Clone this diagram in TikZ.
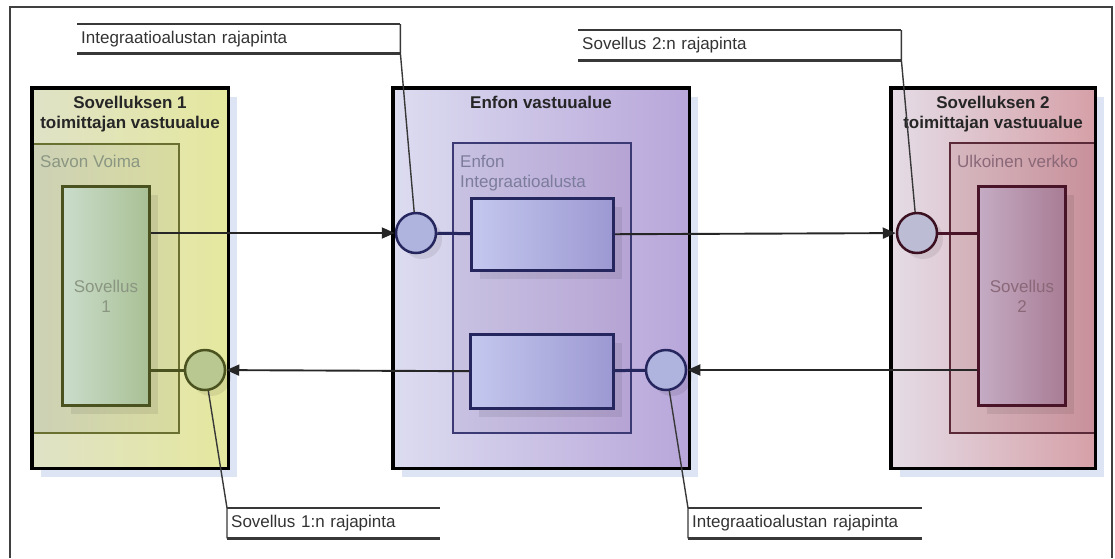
\documentclass[tikz,border=0pt]{standalone}
\usepackage{fontspec}
\setmainfont{Liberation Sans}
\usetikzlibrary{arrows.meta,shadows}
\definecolor{varjo}{HTML}{DDE5F5}
\definecolor{kehys}{HTML}{404040}
\definecolor{viiva}{HTML}{383838}
% left (yellow-green) side
\definecolor{keltaA}{HTML}{DFE2C6}
\definecolor{keltaB}{HTML}{E5E89E}
\definecolor{savoA}{HTML}{CDD1B6}
\definecolor{savoB}{HTML}{D9DC9E}
\definecolor{savoraja}{HTML}{6A7030}
\definecolor{sovA}{HTML}{CADDCC}
\definecolor{sovB}{HTML}{A9C094}
\definecolor{oliivi}{HTML}{4A5220}
\definecolor{oliivitxt}{HTML}{8A9682}
% middle (violet) part
\definecolor{violA}{HTML}{DCDCF0}
\definecolor{violB}{HTML}{B8A6DA}
\definecolor{inteA}{HTML}{C8C2E2}
\definecolor{inteB}{HTML}{B6A4D4}
\definecolor{interaja}{HTML}{3C3A74}
\definecolor{laatA}{HTML}{C4C8EE}
\definecolor{laatB}{HTML}{9C98D2}
\definecolor{sini}{HTML}{26265E}
\definecolor{sinitxt}{HTML}{7C7C9C}
\definecolor{portti}{HTML}{AEB4DE}
% right (red) side
\definecolor{punaA}{HTML}{E4DCE6}
\definecolor{punaB}{HTML}{D6A0A8}
\definecolor{ulkoA}{HTML}{D6B8C0}
\definecolor{ulkoB}{HTML}{C8909A}
\definecolor{ulkoraja}{HTML}{5A2A38}
\definecolor{sov2A}{HTML}{C4ACC4}
\definecolor{sov2B}{HTML}{A87C94}
\definecolor{viini}{HTML}{4A1428}
\definecolor{viinitxt}{HTML}{8A6878}
\definecolor{portti2}{HTML}{BCBCD4}
\definecolor{portti1}{HTML}{B8C890}
\begin{document}
\begin{tikzpicture}[x=1pt,y=-1pt,
  every node/.style={inner sep=0pt,font=\fontsize{17}{20}\selectfont},
  vastuu/.style={anchor=north west,
    drop shadow={shadow xshift=9pt,shadow yshift=-9pt,fill=varjo,opacity=1}},
  vastuuraja/.style={draw=black,line width=3.5pt},
  osa/.style={anchor=north west,line width=1.5pt},
  sovellus/.style={anchor=north west,line width=3pt,
    general shadow={shadow xshift=8pt,shadow yshift=-8pt,fill=black,opacity=0.08}},
  liitin/.style={circle,line width=2.5pt,minimum size=40pt,
    general shadow={shadow xshift=6pt,shadow yshift=-6pt,fill=black,opacity=0.08}},
  otsikko/.style={font=\fontsize{17}{20}\selectfont\bfseries,align=center,text=black!85},
  kulku/.style={draw=black!85,line width=1.9pt,-{Triangle[length=13pt,width=11pt]}},
  kiinni/.style={line width=3pt},
  selite/.style={anchor=north west,inner xsep=4pt,align=left,text=black!80},
  selitelinja/.style={draw=viiva,line width=2.6pt},
  viite/.style={draw=viiva,line width=1.4pt}]
\useasboundingbox (0,0) rectangle (1115,558);
\draw[draw=kehys,line width=1.2pt] (10,558) -- (10,7) -- (1112,7) -- (1112,558);

% Sovelluksen 1 toimittajan vastuualue
\node[vastuu,left color=keltaA,right color=keltaB,minimum width=196pt,minimum height=380pt] (vast1) at (32,88) {};
\node[osa,draw=savoraja,left color=savoA,right color=savoB,minimum width=146pt,minimum height=289pt] (savo) at (32,143) {};
\node[sovellus,draw=oliivi,left color=sovA,right color=sovB,minimum width=87pt,minimum height=219pt] (sov1) at (61,185) {};
\draw[vastuuraja] (vast1.north west) rectangle (vast1.south east);
\node[otsikko,anchor=north] (t1) at (130,96) {Sovelluksen 1\\toimittajan vastuualue};
\node[anchor=west,text=oliivitxt] (savoteksti) at (40,161) {Savon Voima};
\node[align=center,text=oliivitxt] (sov1teksti) at (sov1) {Sovellus\\1};

% Enfon vastuualue
\node[vastuu,left color=violA,right color=violB,minimum width=296pt,minimum height=380pt] (vast2) at (393,88) {};
\node[osa,draw=interaja,left color=inteA,right color=inteB,minimum width=178pt,minimum height=290pt] (inte) at (452,142) {};
\node[sovellus,draw=sini,left color=laatA,right color=laatB,minimum width=142pt,minimum height=72pt] (laat1) at (470,197) {};
\node[sovellus,draw=sini,left color=laatA,right color=laatB,minimum width=143pt,minimum height=74pt] (laat2) at (469,333) {};
\draw[vastuuraja] (vast2.north west) rectangle (vast2.south east);
\node[otsikko,anchor=north] (t2) at (541,96) {Enfon vastuualue};
\node[anchor=north west,align=left,text=sinitxt] (inteteksti) at (460,155) {Enfon\\Integraatioalusta};

% Sovelluksen 2 toimittajan vastuualue
\node[vastuu,left color=punaA,right color=punaB,minimum width=204pt,minimum height=380pt] (vast3) at (891,88) {};
\node[osa,draw=ulkoraja,left color=ulkoA,right color=ulkoB,minimum width=146pt,minimum height=290pt] (ulko) at (949,142) {};
\node[sovellus,draw=viini,left color=sov2A,right color=sov2B,minimum width=87pt,minimum height=219pt] (sov2) at (977,185) {};
\draw[vastuuraja] (vast3.north west) rectangle (vast3.south east);
\node[otsikko,anchor=north] (t3) at (993,96) {Sovelluksen 2\\toimittajan vastuualue};
\node[anchor=west,text=viinitxt] (ulkoteksti) at (957,161) {Ulkoinen verkko};
\node[align=center,text=viinitxt] (sov2teksti) at (sov2) {Sovellus\\2};

% rajapinnat
\node[liitin,draw=sini,fill=portti] (c1) at (416,233) {};
\node[liitin,draw=viini!80!black,fill=portti2] (c2) at (917,233) {};
\node[liitin,draw=sini,fill=portti] (c3) at (666,370) {};
\node[liitin,draw=oliivi,fill=portti1] (c4) at (205,370) {};

% kulku
\draw[kulku] (sov1.east |- c1) -- (c1);
\draw[kiinni,draw=sini] (c1) -- (laat1);
\draw[kulku] (laat1) -- (c2);
\draw[kiinni,draw=viini] (c2) -- (sov2.west |- c2);
\draw[kulku] (sov2.west |- c3) -- (c3);
\draw[kiinni,draw=sini] (c3) -- (laat2);
\draw[kulku] (laat2) -- (c4);
\draw[kiinni,draw=oliivi] (c4) -- (sov1.east |- c4);

% selitteet
\node[selite,minimum height=29pt,text width=315pt] (s1) at (77,24) {Integraatioalustan rajapinta};
\draw[selitelinja] (s1.north west) -- (s1.north east);
\draw[selitelinja] (s1.south west) -- (s1.south east);
\draw[viite] (s1.north east) -- (s1.south east) -- (c1);
\node[selite,minimum height=30pt,text width=315pt] (s2) at (578,30) {Sovellus 2:n rajapinta};
\draw[selitelinja] (s2.north west) -- (s2.north east);
\draw[selitelinja] (s2.south west) -- (s2.south east);
\draw[viite] (s2.north east) -- (s2.south east) -- (c2);
\node[selite,minimum height=30pt,text width=205pt] (s3) at (227,508) {Sovellus 1:n rajapinta};
\draw[selitelinja] (s3.north west) -- (s3.north east);
\draw[selitelinja] (s3.south west) -- (s3.south east);
\draw[viite] (s3.south west) -- (s3.north west) -- (c4);
\node[selite,minimum height=30pt,text width=226pt] (s4) at (688,508) {Integraatioalustan rajapinta};
\draw[selitelinja] (s4.north west) -- (s4.north east);
\draw[selitelinja] (s4.south west) -- (s4.south east);
\draw[viite] (s4.south west) -- (s4.north west) -- (c3);
\end{tikzpicture}
\end{document}
